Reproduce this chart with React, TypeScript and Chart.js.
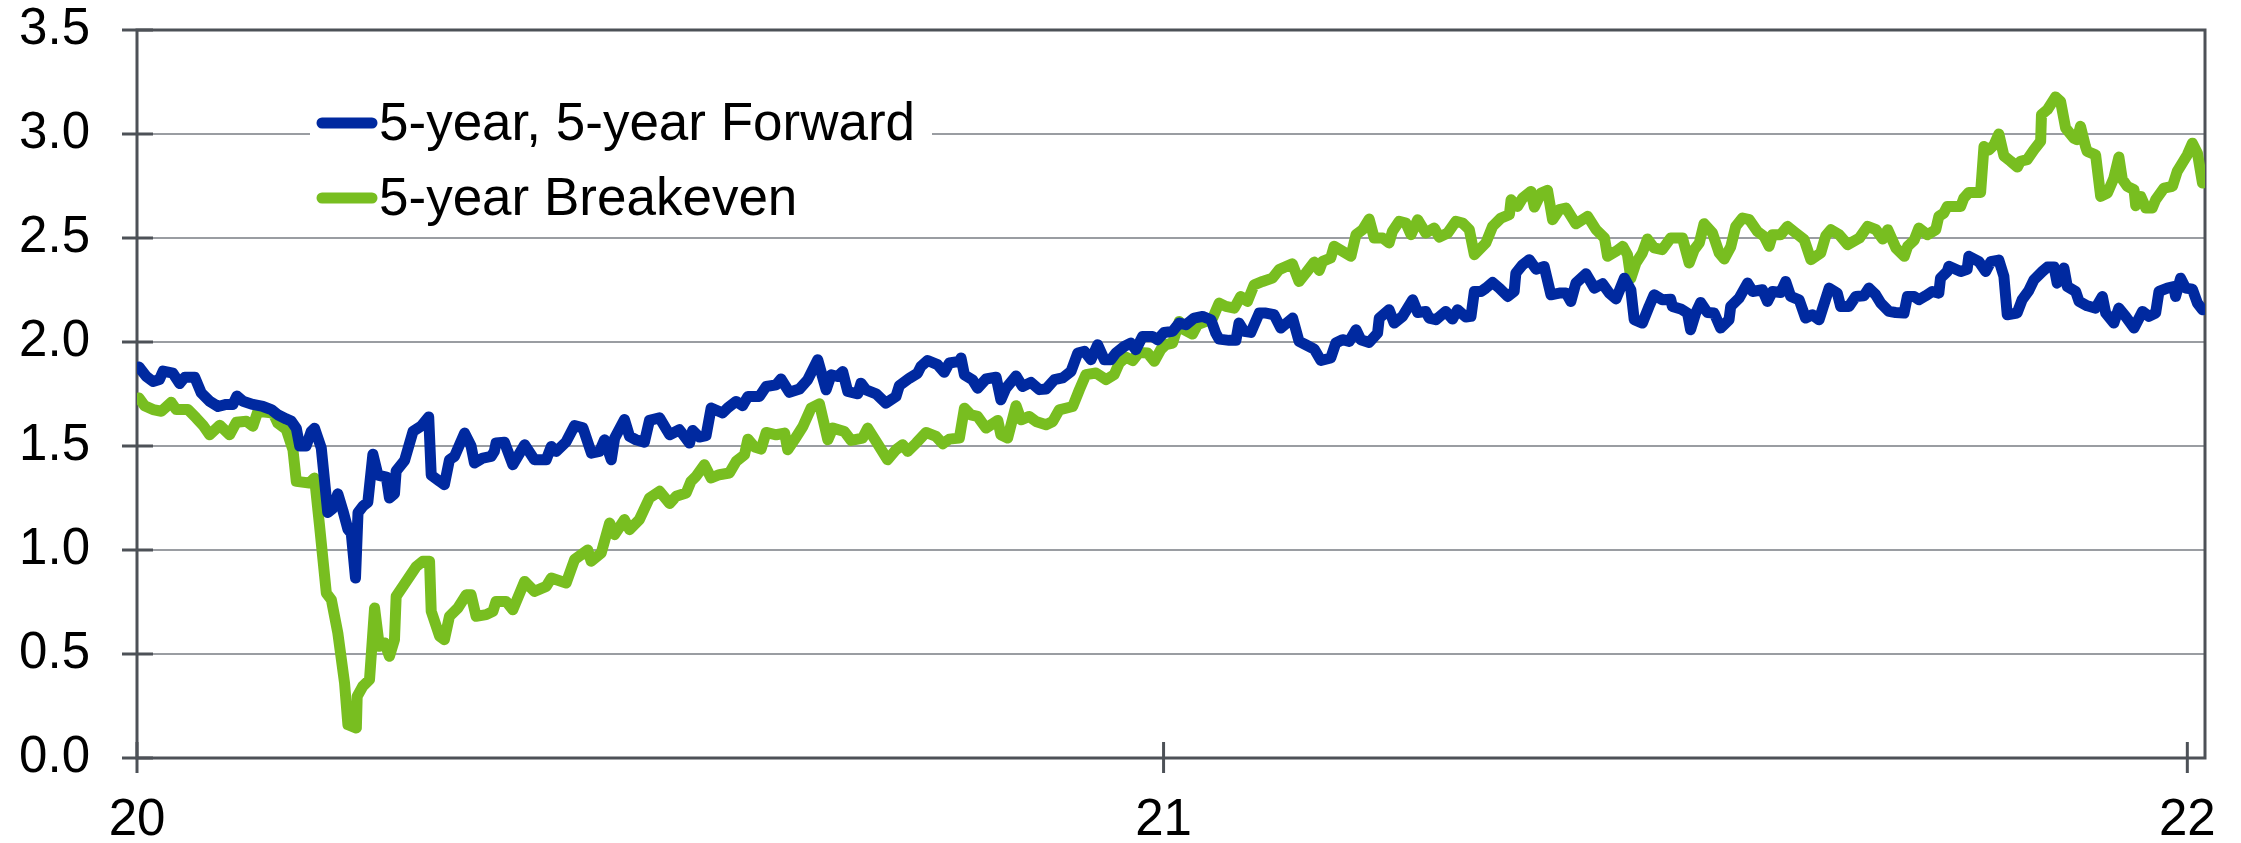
import React, { useEffect, useRef } from 'react';
import { Chart, registerables } from 'chart.js';

Chart.register(...registerables);

const FONT = "'Liberation Sans', Arial, Helvetica, sans-serif";

// Series names
const seriesLabels = ['5-year, 5-year Forward', '5-year Breakeven'];
const seriesColors = ['#0029A0', '#78BE20'];

// X axis: days since 1 Jan 2020, tick labels at year starts
const xTickDays = [0, 366, 731];
const xTickLabels = ['20', '21', '22'];
const xMaxDay = 737.3;

// Y axis ticks
const yTickValues = [0, 0.5, 1.0, 1.5, 2.0, 2.5, 3.0, 3.5];

// 5-year, 5-year forward (days since 1 Jan 2020, %)
const fwdDays = [
  0.7, 3.3, 5.7, 8, 9.3, 12.8, 15.2, 17, 20.6, 22.9, 25.9, 28.9, 31.8, 34.2, 35.6, 37.8, 41.3, 44.9, 47.9, 50.2,
  53.2, 55, 56.8, 58, 60.3, 62.1, 63.3, 65.7, 68, 69.8, 71.6, 73.4, 75.2, 76.4, 77.9, 78.8, 80.5, 82.3, 84.1, 85.9,
  88.9, 90, 91.8, 92.4, 95.4, 98.4, 101.3, 104, 104.9, 107.9, 109.6, 111.4, 113.2, 116.8, 119.1, 120.3, 123.3, 126.3, 127.4, 128,
  131, 134, 138.2, 141.7, 145.9, 147.7, 149.5, 153, 156, 159, 162, 164.9, 166.7, 169.1, 170.3, 173.8, 175.6, 177.9, 180.9, 182.7,
  186.3, 189.9, 193.4, 197, 198.1, 200.5, 202.9, 204.7, 208.8, 210.6, 213.6, 215.9, 217.8, 221.9, 224.3, 227.9, 229.6, 232.6, 236.2, 239.1,
  242.7, 245.7, 247.5, 249.8, 251.6, 253.4, 257, 258.1, 259.9, 263.5, 267, 270.6, 271.8, 275.4, 278.3, 279.5, 281.9, 285.4, 287.8, 289.6,
  293.2, 293.8, 295, 297.9, 299.7, 302.7, 306.3, 308, 309.8, 313.4, 315.7, 318.7, 321.7, 324.1, 327.1, 330, 333, 335.4, 337.8, 340.1,
  342.5, 344.9, 347.2, 349, 352, 354.3, 356.1, 358.5, 362, 363.9, 366.2, 369.2, 371.6, 374, 376.9, 379.9, 382.9, 384.6, 385.8, 389.4,
  391.8, 392.9, 394.7, 397.1, 400.1, 402.5, 405.4, 407.8, 412, 414.3, 416.7, 419.7, 422.1, 425.6, 427.4, 429.8, 432.2, 434.6, 436.3, 439.3,
  442.3, 442.9, 446.4, 448.2, 451.2, 454.8, 456.6, 459.5, 460.7, 463.1, 466.6, 469, 470.8, 473.8, 475.6, 476.8, 479.2, 480.9, 483.3, 485.7,
  488.7, 491, 491.6, 494, 496.4, 498.8, 501.7, 504.1, 507.1, 509.5, 511.2, 513, 516.6, 519.6, 522.5, 524.9, 527.3, 530.3, 532.6, 533.8,
  536.7, 539.1, 540.9, 543.8, 546.8, 547.4, 550.4, 552.8, 553.9, 555.7, 557.5, 559.9, 562.3, 564.6, 567.6, 568.2, 571.2, 574.2, 576, 579.5,
  581.3, 583.1, 586, 587.8, 589.6, 592.6, 594.9, 597.3, 599.7, 603.3, 606.2, 607.4, 610.4, 612.8, 615.7, 617.5, 619.9, 621.7, 624.6, 627,
  630, 631.2, 633.6, 635.3, 637.7, 640.1, 642.4, 643, 645.4, 646, 650.2, 652.5, 653.1, 656.7, 659.1, 660.9, 663.8, 665.6, 666.8, 670.3,
  672.1, 674.5, 676.3, 679.3, 681.1, 683.5, 684.6, 687, 688.2, 691.2, 692.4, 695.3, 698.3, 700.7, 701.9, 704.8, 706.6, 709, 712, 715,
  717.3, 719.7, 720.9, 723.9, 726.2, 726.8, 728.6, 730.4, 732.8, 734.6, 736.4,
];
const fwdValues = [
  1.88, 1.835, 1.81, 1.82, 1.86, 1.85, 1.8, 1.83, 1.83, 1.755, 1.715, 1.69, 1.7, 1.7, 1.74, 1.715, 1.7, 1.69, 1.675, 1.65,
  1.63, 1.62, 1.585, 1.5, 1.5, 1.57, 1.585, 1.49, 1.18, 1.2, 1.27, 1.19, 1.1, 1.08, 0.865, 1.18, 1.21, 1.23, 1.46, 1.36,
  1.35, 1.25, 1.27, 1.38, 1.43, 1.57, 1.595, 1.64, 1.36, 1.33, 1.314, 1.434, 1.45, 1.562, 1.5, 1.418, 1.442, 1.45, 1.474, 1.514,
  1.518, 1.41, 1.506, 1.434, 1.434, 1.498, 1.474, 1.52, 1.598, 1.587, 1.466, 1.474, 1.53, 1.434, 1.538, 1.627, 1.546, 1.53, 1.518, 1.623,
  1.635, 1.554, 1.578, 1.514, 1.575, 1.543, 1.55, 1.683, 1.659, 1.683, 1.714, 1.694, 1.738, 1.738, 1.786, 1.794, 1.822, 1.758, 1.774, 1.818,
  1.915, 1.77, 1.842, 1.834, 1.858, 1.762, 1.751, 1.802, 1.77, 1.751, 1.706, 1.738, 1.79, 1.826, 1.85, 1.883, 1.911, 1.891, 1.854, 1.899,
  1.907, 1.923, 1.842, 1.818, 1.778, 1.822, 1.831, 1.722, 1.778, 1.837, 1.786, 1.806, 1.771, 1.774, 1.819, 1.827, 1.859, 1.947, 1.955, 1.915,
  1.987, 1.915, 1.915, 1.947, 1.979, 1.995, 1.963, 2.027, 2.027, 2.011, 2.046, 2.051, 2.091, 2.083, 2.115, 2.123, 2.107, 2.043, 2.014, 2.008,
  2.008, 2.091, 2.051, 2.046, 2.139, 2.139, 2.131, 2.067, 2.115, 2.003, 1.987, 1.966, 1.911, 1.923, 1.995, 2.011, 2.003, 2.059, 2.011, 1.998,
  2.043, 2.115, 2.155, 2.091, 2.123, 2.203, 2.142, 2.147, 2.115, 2.107, 2.147, 2.11, 2.155, 2.12, 2.123, 2.243, 2.243, 2.259, 2.286, 2.259,
  2.219, 2.243, 2.331, 2.371, 2.396, 2.35, 2.363, 2.227, 2.235, 2.235, 2.195, 2.283, 2.328, 2.259, 2.28, 2.235, 2.207, 2.307, 2.251, 2.107,
  2.091, 2.171, 2.227, 2.203, 2.206, 2.171, 2.159, 2.139, 2.059, 2.139, 2.19, 2.142, 2.139, 2.067, 2.107, 2.171, 2.211, 2.283, 2.243, 2.251,
  2.195, 2.243, 2.238, 2.291, 2.219, 2.203, 2.115, 2.131, 2.107, 2.259, 2.235, 2.171, 2.171, 2.219, 2.222, 2.259, 2.227, 2.187, 2.147, 2.142,
  2.139, 2.219, 2.219, 2.203, 2.222, 2.243, 2.235, 2.307, 2.339, 2.364, 2.339, 2.35, 2.412, 2.386, 2.339, 2.386, 2.394, 2.315, 2.131, 2.139,
  2.203, 2.248, 2.299, 2.339, 2.36, 2.36, 2.283, 2.356, 2.267, 2.243, 2.195, 2.174, 2.163, 2.219, 2.139, 2.091, 2.163, 2.123, 2.067, 2.147,
  2.123, 2.139, 2.243, 2.259, 2.267, 2.219, 2.307, 2.259, 2.254, 2.187, 2.155,
];

// 5-year breakeven (days since 1 Jan 2020, %)
const beDays = [
  0.7, 2.7, 5.7, 8.7, 12.2, 14, 18.2, 21.1, 23.5, 25.9, 29.5, 33, 35.4, 39, 41.3, 43.1, 48.5, 50.2, 53.2, 55.6,
  56.8, 61.5, 63.3, 65.1, 67.5, 69.3, 71.6, 74, 75.2, 78.2, 78.5, 80.5, 82.9, 84.7, 86.4, 88.3, 90, 91.8, 92.4, 94.8,
  97.2, 99.6, 101.9, 104.3, 104.9, 107.9, 109.6, 111.4, 114.4, 117.4, 119.1, 120.9, 124.5, 126.9, 128, 131.6, 134, 138.2, 141.7, 145.9,
  147.7, 153, 156, 160.7, 161.9, 165.5, 168.5, 170.3, 173.8, 175.6, 179.1, 182.7, 186.3, 189.9, 192.2, 195.8, 197.5, 199.3, 202.3, 204.7,
  207.6, 211.2, 213.6, 216.6, 217.8, 220.2, 222.5, 224.3, 227.9, 230.9, 232, 234.4, 237.4, 240.3, 243.3, 246.3, 248.1, 252.2, 254.6, 258.7,
  260.5, 263.5, 267.6, 270.6, 273, 274.8, 277.8, 281.3, 284.9, 287.3, 289.6, 293.2, 295, 297.3, 299.7, 302.7, 306.9, 308, 310.4, 313.4,
  315.2, 318.1, 320.5, 324.1, 326.5, 328.8, 333.6, 336, 338.3, 341.9, 345.5, 348.4, 350.2, 352.6, 355, 357.3, 360.3, 362.7, 365, 366.8,
  369.2, 371.6, 373.3, 376.3, 378.1, 381.1, 383.5, 385.8, 388.2, 391.2, 393.5, 395.9, 398.3, 401.3, 404.8, 407.2, 411.9, 414.3, 416.7, 419.7,
  421.5, 422.7, 425.6, 426.8, 429.8, 432.8, 434.6, 437, 439.3, 441.1, 444.1, 446.4, 447.6, 450, 452.4, 454.2, 456.6, 459.5, 462.5, 464.3,
  467.3, 470.2, 472.6, 475, 476.8, 480.9, 483.3, 486.3, 489.3, 489.9, 492.2, 494, 497, 498.2, 500.6, 502.9, 504.7, 507.1, 509.5, 513,
  517.2, 520.2, 523.2, 524.3, 527.3, 529.7, 531.4, 532.6, 534.4, 536.7, 538.5, 540.9, 543.8, 546.8, 551, 553.4, 555.2, 557, 558.7, 561.7,
  564.1, 565.9, 568.2, 570, 572.4, 574.8, 577.7, 580.1, 581.9, 583.1, 586, 588.4, 591.4, 594.4, 596.8, 600.3, 602.1, 603.9, 606.9, 609.9,
  614.1, 617, 620, 622.4, 624.2, 627.1, 630.1, 631.3, 633.6, 635.3, 638.3, 641.3, 642.4, 644.2, 645.4, 650.2, 651.3, 653.1, 657.3, 658.5,
  660.3, 662.1, 663.8, 665.6, 668, 670.4, 671.5, 673.9, 676.3, 678.7, 679, 681.1, 684, 685.8, 687.6, 690.5, 691.7, 692.9, 694.7, 695.3,
  698.3, 700.1, 702.5, 704.8, 706.6, 707.8, 709.6, 712, 712.6, 714.4, 716.2, 718.5, 719.7, 722.7, 725.7, 727.4, 729.2, 731, 732.8, 734.6,
  736.4,
];
const beValues = [
  1.731, 1.694, 1.675, 1.667, 1.71, 1.675, 1.675, 1.635, 1.6, 1.554, 1.6, 1.554, 1.614, 1.619, 1.595, 1.667, 1.659, 1.61, 1.58, 1.482,
  1.33, 1.322, 1.346, 1.114, 0.793, 0.761, 0.601, 0.36, 0.16, 0.144, 0.296, 0.345, 0.377, 0.721, 0.537, 0.553, 0.489, 0.569, 0.777, 0.825,
  0.873, 0.921, 0.946, 0.946, 0.705, 0.585, 0.569, 0.681, 0.721, 0.785, 0.785, 0.681, 0.689, 0.705, 0.753, 0.753, 0.713, 0.849, 0.801, 0.825,
  0.865, 0.841, 0.954, 1.0, 0.946, 0.986, 1.13, 1.074, 1.146, 1.098, 1.146, 1.25, 1.282, 1.223, 1.258, 1.274, 1.33, 1.354, 1.41, 1.346,
  1.362, 1.37, 1.426, 1.458, 1.533, 1.495, 1.485, 1.565, 1.554, 1.562, 1.482, 1.53, 1.594, 1.682, 1.703, 1.53, 1.586, 1.57, 1.527, 1.538,
  1.586, 1.522, 1.434, 1.482, 1.506, 1.474, 1.514, 1.565, 1.546, 1.511, 1.533, 1.538, 1.682, 1.65, 1.642, 1.586, 1.623, 1.554, 1.538, 1.694,
  1.626, 1.642, 1.618, 1.602, 1.618, 1.674, 1.69, 1.771, 1.843, 1.851, 1.819, 1.843, 1.899, 1.927, 1.911, 1.95, 1.947, 1.907, 1.963, 1.987,
  1.995, 2.099, 2.059, 2.038, 2.083, 2.099, 2.115, 2.187, 2.171, 2.163, 2.219, 2.195, 2.275, 2.291, 2.307, 2.348, 2.376, 2.291, 2.331, 2.384,
  2.344, 2.388, 2.404, 2.46, 2.436, 2.412, 2.516, 2.54, 2.591, 2.5, 2.5, 2.476, 2.532, 2.58, 2.572, 2.516, 2.588, 2.524, 2.548, 2.504,
  2.524, 2.58, 2.572, 2.54, 2.42, 2.476, 2.556, 2.596, 2.612, 2.684, 2.652, 2.692, 2.724, 2.649, 2.716, 2.729, 2.588, 2.636, 2.644, 2.568,
  2.604, 2.54, 2.5, 2.412, 2.436, 2.46, 2.42, 2.307, 2.38, 2.428, 2.495, 2.452, 2.444, 2.5, 2.5, 2.38, 2.444, 2.476, 2.569, 2.524,
  2.428, 2.399, 2.457, 2.556, 2.596, 2.588, 2.532, 2.508, 2.46, 2.516, 2.516, 2.556, 2.524, 2.492, 2.396, 2.428, 2.511, 2.54, 2.516, 2.468,
  2.5, 2.556, 2.54, 2.495, 2.54, 2.452, 2.412, 2.46, 2.489, 2.548, 2.516, 2.54, 2.604, 2.62, 2.652, 2.652, 2.692, 2.719, 2.719, 2.94,
  2.924, 2.948, 3.0, 2.895, 2.869, 2.841, 2.869, 2.877, 2.924, 2.965, 3.093, 3.117, 3.178, 3.157, 3.029, 2.98, 2.973, 3.037, 2.94, 2.916,
  2.9, 2.7, 2.716, 2.788, 2.889, 2.783, 2.748, 2.732, 2.655, 2.7, 2.644, 2.644, 2.684, 2.74, 2.748, 2.82, 2.86, 2.9, 2.956, 2.908,
  2.764,
];

const AXIS_COLOR = '#4D5157';
const GRID_COLOR = '#9A9DA2';
const LINE_WIDTH = 11;

const framePlugin = {
  id: 'frame',
  beforeDatasetsDraw(chart: any) {
    const { ctx, chartArea: a, scales } = chart;
    ctx.save();
    // white box behind the legend (hides the grid line)
    ctx.fillStyle = '#ffffff';
    ctx.fillRect(a.left + 173, a.top + 58, 622, 144);
    // frame
    ctx.strokeStyle = AXIS_COLOR;
    ctx.lineWidth = 3;
    ctx.strokeRect(a.left, a.top, a.right - a.left, a.bottom - a.top);
    // crossing tick marks
    for (const v of yTickValues) {
      const py = scales.y.getPixelForValue(v);
      ctx.beginPath();
      ctx.moveTo(a.left - 15, py);
      ctx.lineTo(a.left + 16, py);
      ctx.stroke();
    }
    for (const d of xTickDays) {
      const px = scales.x.getPixelForValue(d);
      ctx.beginPath();
      ctx.moveTo(px, a.bottom - 16);
      ctx.lineTo(px, a.bottom + 15);
      ctx.stroke();
    }
    ctx.restore();
  },
  afterDatasetsDraw(chart: any) {
    const { ctx, chartArea: a } = chart;
    ctx.save();
    chart.data.datasets.forEach((ds: any, i: number) => {
      const cy = a.top + 93 + i * 75;
      ctx.strokeStyle = ds.borderColor;
      ctx.lineWidth = 11;
      ctx.lineCap = 'round';
      ctx.beginPath();
      ctx.moveTo(a.left + 185, cy);
      ctx.lineTo(a.left + 235, cy);
      ctx.stroke();
      ctx.fillStyle = '#000000';
      ctx.font = `53px ${FONT}`;
      ctx.textAlign = 'left';
      ctx.textBaseline = 'alphabetic';
      ctx.fillText(ds.label, a.left + 242, a.top + 110 + i * 75);
    });
    ctx.restore();
  },
};

export default function App() {
  const canvasRef = useRef<HTMLCanvasElement | null>(null);

  useEffect(() => {
    const canvas = canvasRef.current;
    if (!canvas) return;
    const toPoints = (days: number[], vals: number[]) => days.map((d, i) => ({ x: d, y: vals[i] }));
    const lineStyle = {
      borderWidth: LINE_WIDTH,
      pointRadius: 0,
      tension: 0,
      borderJoinStyle: 'round',
      borderCapStyle: 'round',
    };
    const chart = new Chart(canvas, {
      type: 'line',
      data: {
        datasets: [
          {
            label: seriesLabels[0],
            data: toPoints(fwdDays, fwdValues),
            borderColor: seriesColors[0],
            backgroundColor: seriesColors[0],
            ...lineStyle,
          },
          {
            label: seriesLabels[1],
            data: toPoints(beDays, beValues),
            borderColor: seriesColors[1],
            backgroundColor: seriesColors[1],
            ...lineStyle,
          },
        ],
      },
      options: {
        responsive: false,
        animation: false,
        devicePixelRatio: 1,
        layout: { padding: { left: 0, right: 36, top: 30, bottom: 0 } },
        plugins: { legend: { display: false }, tooltip: { enabled: false } },
        scales: {
          x: {
            type: 'linear',
            min: 0,
            max: xMaxDay,
            afterBuildTicks: (s: any) => {
              s.ticks = xTickDays.map((v) => ({ value: v }));
            },
            afterFit: (s: any) => {
              s.height = 85;
              s.paddingLeft = 0;
              s.paddingRight = 0;
              s.paddingTop = 0;
              s.paddingBottom = 0;
            },
            grid: { display: false, drawTicks: false },
            border: { display: false },
            ticks: {
              autoSkip: false,
              maxRotation: 0,
              padding: 32,
              color: '#000000',
              font: { family: FONT, size: 51 },
              callback: (_v: any, i: number) => xTickLabels[i],
            },
          },
          y: {
            min: 0,
            max: 3.5,
            afterBuildTicks: (s: any) => {
              s.ticks = yTickValues.map((v) => ({ value: v }));
            },
            afterFit: (s: any) => {
              s.width = 137;
              s.paddingLeft = 0;
              s.paddingRight = 0;
              s.paddingTop = 0;
              s.paddingBottom = 0;
            },
            grid: { color: GRID_COLOR, lineWidth: 2, drawTicks: false },
            border: { display: false },
            ticks: {
              padding: 47,
              color: '#000000',
              font: { family: FONT, size: 51 },
              callback: (v: any) => Number(v).toFixed(1),
            },
          },
        },
      },
      plugins: [framePlugin],
    } as any);
    return () => chart.destroy();
  }, []);

  return (
    <div style={{ position: 'absolute', left: 0, top: 0, width: 2241, height: 843, background: '#ffffff' }}>
      <canvas ref={canvasRef} width={2241} height={843} style={{ display: 'block' }} />
    </div>
  );
}
